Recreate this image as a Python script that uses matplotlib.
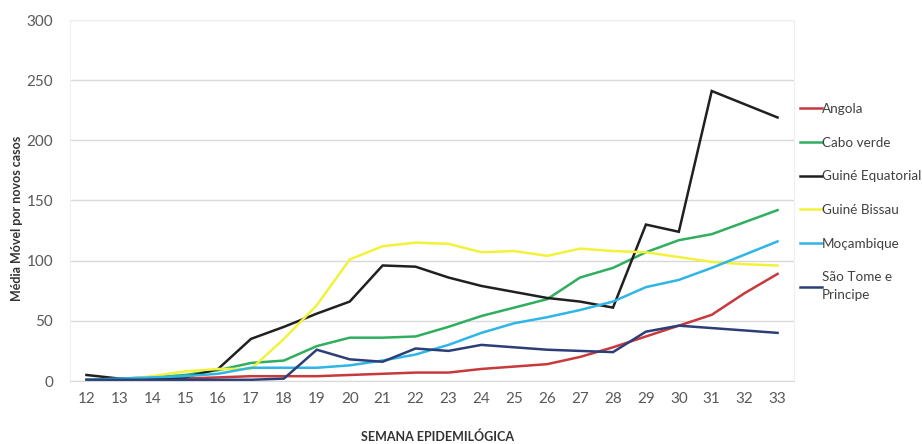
import matplotlib
matplotlib.use("Agg")
import matplotlib.pyplot as plt

weeks = list(range(12, 34))
angola = [1, 1, 2, 2, 3, 4, 4, 4, 5, 6, 7, 7, 10, 12, 14, 20, 28, 37, 46, 55, 73, 89]
cabo_verde = [1, 2, 3, 5, 9, 15, 17, 29, 36, 36, 37, 45, 54, 61, 68, 86, 94, 107, 117, 122, 132, 142]
guine_eq = [5, 2, 2, 3, 10, 35, 45, 56, 66, 96, 95, 86, 79, 74, 69, 66, 61, 130, 124, 241, 230, 219]
guine_bissau = [1, 1, 4, 8, 10, 10, 35, 63, 101, 112, 115, 114, 107, 108, 104, 110, 108, 107, 103, 99, 97, 96]
mocambique = [1, 2, 3, 4, 6, 11, 11, 11, 13, 17, 22, 30, 40, 48, 53, 59, 66, 78, 84, 94, 105, 116]
sao_tome = [1, 1, 1, 1, 1, 1, 2, 26, 18, 16, 27, 25, 30, 28, 26, 25, 24, 41, 46, 44, 42, 40]

series = [
    ("Angola", angola, "#c8393b"),
    ("Cabo verde", cabo_verde, "#2fae5f"),
    ("Guiné Equatorial", guine_eq, "#202020"),
    ("Guiné Bissau", guine_bissau, "#f2f23c"),
    ("Moçambique", mocambique, "#2fb5e6"),
    ("São Tome e\nPrincipe", sao_tome, "#2c3e78"),
]

plt.rcParams['font.family'] = ['Lato', 'DejaVu Sans']

fig = plt.figure(figsize=(9.22, 4.44), dpi=100)
ax = fig.add_axes([70/922, 1-381/444, (794-70)/922, (381-20)/444])

for name, vals, col in series:
    ax.plot(weeks, vals, color=col, lw=1.8, label=name, solid_joinstyle='miter')

ax.set_xlim(11.5, 33.5)
ax.set_ylim(0, 300)
ax.set_yticks(range(0, 301, 50))
ax.set_xticks(weeks)
ax.grid(axis='y', color='#d9d9d9', lw=1)
ax.set_axisbelow(True)
for s in ['top', 'right', 'left']:
    ax.spines[s].set_color('#f0f0f0')
ax.spines['bottom'].set_color('#d9d9d9')
ax.tick_params(length=0, labelsize=11, colors='#595959', pad=8)
ax.tick_params(axis='y', pad=12)

fig.text(17/922, 1-218/444, "Média Móvel por novos casos", rotation=90, fontsize=9,
         fontweight='bold', color='#333333', ha='center', va='center')
fig.text(437/922, 1-437/444, "SEMANA EPIDEMILÓGICA", fontsize=9,
         fontweight='bold', color='#333333', ha='center', va='center')

leg = ax.legend(loc='upper left', bbox_to_anchor=(800/922, 1-103/444), bbox_transform=fig.transFigure,
                frameon=False, fontsize=9.7, handlelength=1.63, handletextpad=0.0,
                labelspacing=1.61, borderaxespad=0, borderpad=0)
for t in leg.get_texts():
    t.set_color('#404040')
    t.set_linespacing(1.6)

fig.savefig("out.png", dpi=100, facecolor='white')
